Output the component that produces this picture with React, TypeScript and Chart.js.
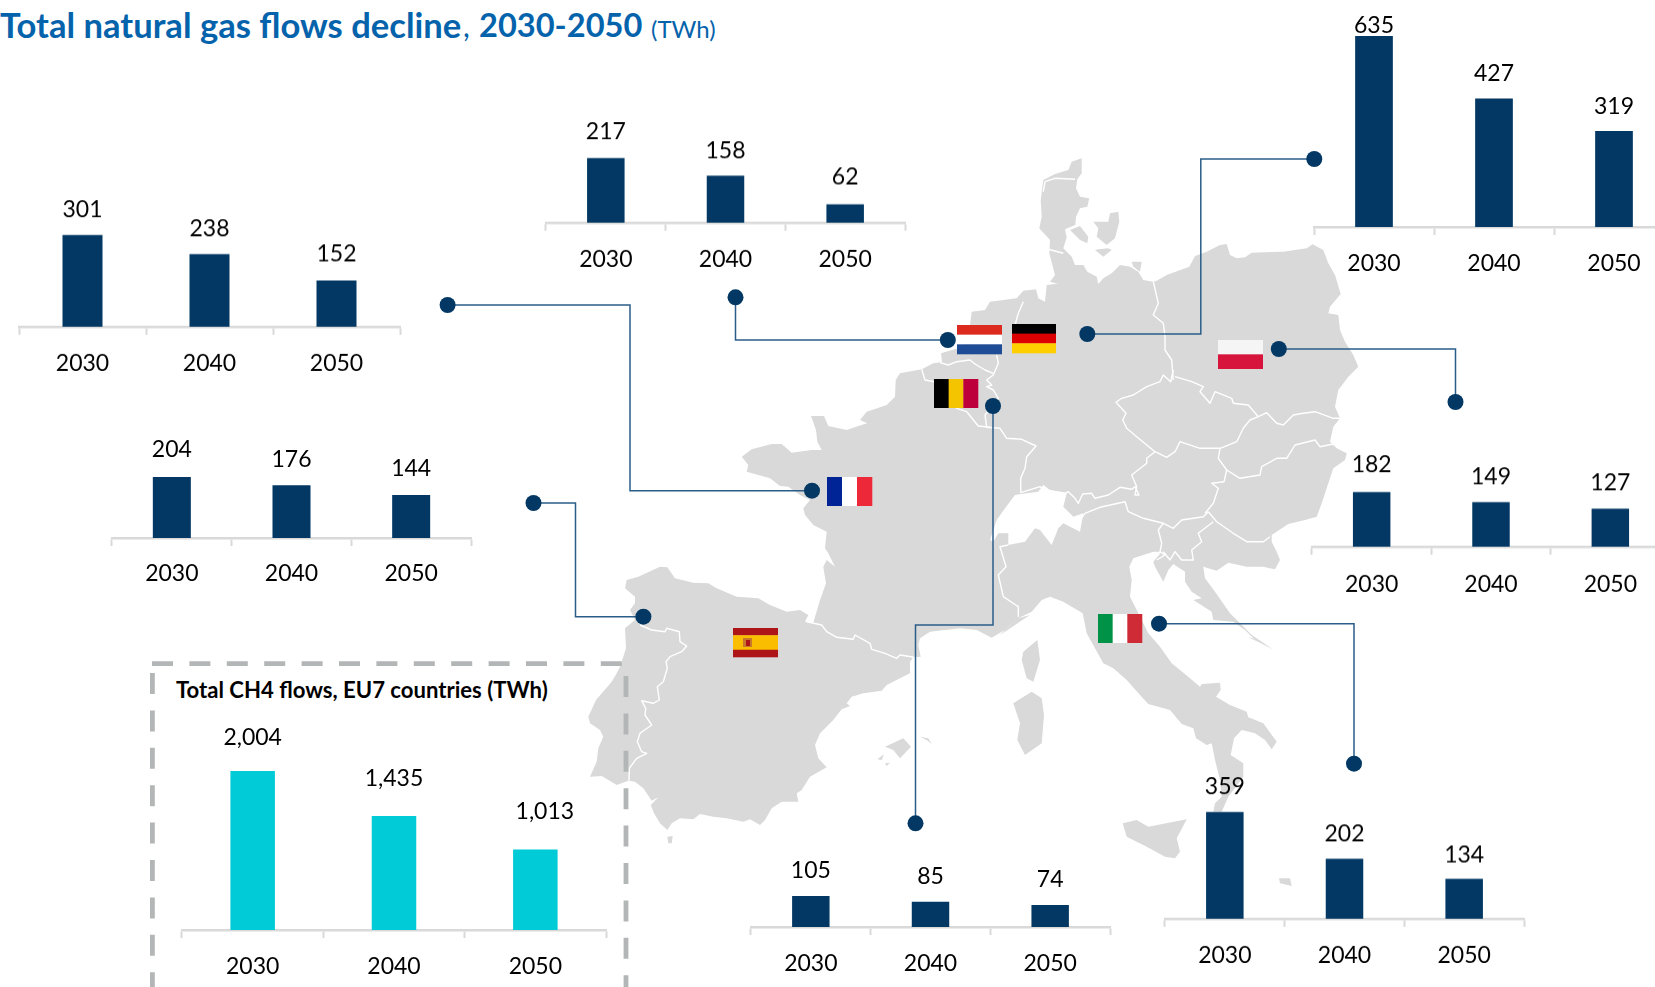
import React, { useEffect, useRef } from "react";
import { Chart, registerables } from "chart.js";

Chart.register(...registerables);

const years = ["2030", "2040", "2050"];
const franceValues = [301, 238, 152];
const netherlandsValues = [217, 158, 62];
const germanyValues = [635, 427, 319];
const polandValues = [182, 149, 127];
const spainValues = [204, 176, 144];
const belgiumValues = [105, 85, 74];
const italyValues = [359, 202, 134];
const totalValues = [2004, 1435, 1013];

const NAVY = "#023863";
const CYAN = "#00CBD6";
const FONT = "Lato, Carlito, sans-serif";

const panels = [
  { id: "fr", values: franceValues, left: 19, right: 400, base: 327, ppu: 0.3056, bar: 40, lift: [25, 25, 26], cat: 34.5, color: NAVY },
  { id: "nl", values: netherlandsValues, left: 546, right: 905, base: 222.7, ppu: 0.2967, bar: 37.5, lift: [26, 25, 27], cat: 34.3, color: NAVY },
  { id: "de", values: germanyValues, left: 1314, right: 1674, base: 227, ppu: 0.3008, bar: 37.7, lift: [10, 25, 24], cat: 34.7, color: NAVY },
  { id: "pl", values: polandValues, left: 1311.7, right: 1670, base: 546.7, ppu: 0.2985, bar: 37.5, lift: [27, 25.3, 25.7], cat: 35.6, color: NAVY },
  { id: "es", values: spainValues, left: 112, right: 471, base: 537.8, ppu: 0.3, bar: 38, lift: [27, 26, 26.4], cat: 33.5, color: NAVY },
  { id: "be", values: belgiumValues, left: 750.5, right: 1110, base: 926.7, ppu: 0.2967, bar: 37.5, lift: [25, 25.6, 26], cat: 34.5, color: NAVY },
  { id: "it", values: italyValues, left: 1165, right: 1524, base: 919.3, ppu: 0.298, bar: 37.5, lift: [25, 25, 24], cat: 34.5, color: NAVY },
  { id: "eu", values: totalValues, left: 182, right: 606, base: 930, ppu: 0.0795, bar: 44.5, lift: [33.7, 38, 38], shift: [0, 0, 9.5], cat: 34, color: CYAN },
];

const p = (ox: number, oy: number, s: number[]) => {
  const out: [number, number][] = [];
  for (let i = 0; i < s.length; i += 2) out.push([ox + s[i] / 3, oy + s[i + 1] / 3]);
  return out;
};
const toD = (pts: [number, number][], close = true) =>
  "M" + pts.map((q) => q[0].toFixed(1) + " " + q[1].toFixed(1)).join("L") + (close ? "Z" : "");

const mainland = [
  ...p(1000, 150, [245,25, 245,70, 232,88, 228,115, 240,140, 268,145, 262,170, 240,175, 228,200, 226,225, 195,238, 200,262, 190,295, 215,320, 225,345, 250,345, 262,365, 290,380, 295,402, 310,385, 335,370, 360,345, 390,350, 415,365, 430,390, 460,395, 470,392, 500,375, 568,350, 585,318, 620,305, 660,285, 680,282, 690,315, 710,325, 735,322, 755,308, 850,305, 920,295, 938,283, 970,300, 985,340, 1005,375, 1022,432, 990,470, 985,490, 1015,495, 1020,540, 1035,575, 1060,615, 1075,650, 1045,680, 1015,720, 1005,770, 1020,805]),
  ...p(1000, 370, [1000,170, 990,215, 1010,235, 1040,250, 1035,270, 1000,295, 985,340, 965,400, 950,440, 915,450, 865,462, 815,495, 815,515, 830,545, 840,570, 825,598, 790,590, 740,590, 685,578, 650,602, 610,590, 615,625, 645,665, 690,730, 720,760, 755,795, 820,838, 760,805, 735,780, 700,755, 640,750, 635,725, 580,690, 605,685, 575,665, 555,635, 555,605, 520,582, 505,600, 490,635, 465,590, 460,575, 485,545, 460,545, 400,565, 388,590, 395,630, 390,680, 410,720, 445,790, 480,830, 515,880, 540,900]),
  ...p(980, 600, [630,235, 660,260, 665,252, 720,248, 722,270, 708,290, 750,315, 800,335, 805,352, 850,370, 890,425, 875,448, 855,420, 825,400, 785,390, 762,415, 752,465, 790,490, 790,530, 745,590, 725,635, 700,635, 705,610, 725,590, 720,540, 705,480, 695,430, 680,435, 648,415, 640,385, 605,372, 570,330, 505,312, 480,285, 440,240, 400,205, 370,190, 345,145, 320,100, 308,40, 250,5]),
  ...p(1000, 370, [150,680, 125,690, 95,725, 55,745, 25,770, 0,795]),
  ...p(730, 340, [900,825, 865,835, 825,870, 785,893, 740,870, 690,865, 645,870, 600,875, 570,895]),
  ...p(580, 560, [1015,255, 1022,290, 1000,292, 990,305, 990,340, 960,355, 920,375, 905,392, 850,400, 815,410, 800,430, 810,438, 785,448, 760,480, 720,520, 705,555, 715,595, 740,622, 690,650, 665,690, 650,700, 655,725, 605,725, 575,745, 555,780, 540,795, 510,778, 490,785, 440,775, 400,770, 360,762, 340,778, 300,775, 275,790, 262,810, 240,790, 222,760, 212,735, 235,712, 215,722, 190,685, 165,665, 145,662, 110,675, 65,648, 30,650, 50,605, 55,565, 70,530, 60,510, 30,490, 25,470, 48,420, 95,365, 110,340, 122,315, 138,265, 135,205, 140,200, 165,180, 150,150, 165,130, 165,110, 135,85, 140,60, 175,50, 240,20, 262,22, 285,55, 340,68, 385,70, 410,85, 470,110, 535,115, 570,135, 620,155, 660,150, 685,165, 675,185, 700,188, 720,120, 738,70, 730,20, 740,0]),
  ...p(730, 340, [315,680, 295,640, 285,625, 290,575, 250,555, 225,525, 220,505, 240,480, 210,465, 175,440, 150,438, 120,415, 85,405, 50,395, 55,375, 35,350, 65,328, 125,312, 155,312, 185,338, 245,330, 275,330, 262,305, 258,270, 243,228, 282,228, 295,258, 350,270, 385,258, 412,250, 390,240, 410,215, 470,195, 495,170, 497,120, 510,100, 575,88, 610,70, 636,66, 633,40, 700,20]),
  ...p(900, 300, [210,75, 215,35, 255,30, 270,5]),
  ...p(1000, 150, [50,445, 70,422, 108,418, 115,445, 135,455, 140,405, 185,400, 212,445, 185,405, 150,395, 165,375, 148,310, 150,270, 118,235, 125,200, 122,150, 130,90, 165,72, 205,60, 215,35]),
];

const islands = [
  p(1000, 150, [280,215, 325,215, 330,190, 355,185, 358,215, 345,265, 320,285, 290,260, 295,235]),
  p(1000, 150, [210,240, 240,228, 265,260, 262,280, 240,270]),
  p(1000, 150, [285,300, 310,320, 335,300, 325,295, 295,298]),
  p(1000, 150, [395,335, 425,335, 420,365, 400,350]),
  p(980, 600, [172,120, 180,180, 160,245, 140,235, 125,180, 130,155]),
  p(980, 600, [100,310, 155,275, 185,295, 192,345, 185,430, 135,465, 112,420, 120,370]),
  p(980, 600, [428,670, 470,660, 505,680, 620,658, 590,715, 600,755, 585,775, 555,770, 500,740, 440,710]),
  p(980, 600, [897,835, 930,835, 935,858, 900,850]),
  p(580, 560, [915,560, 970,535, 993,560, 960,595, 940,570]),
  p(580, 560, [1020,530, 1045,535, 1055,552, 1040,540]),
  p(580, 560, [892,598, 912,583, 905,600]),
  p(580, 560, [915,610, 930,608, 920,618]),
  p(580, 560, [262,830, 278,828, 275,850, 265,850]),
  p(980, 600, [805,112, 830,118, 880,150, 840,128]),
];

const switzerland = p(730, 340, [780,600, 800,540, 825,505, 855,465, 925,455, 940,435, 960,450, 1010,460, 1000,500, 1030,530, 1060,520, 1050,575, 1000,550, 985,565, 965,615, 930,570, 915,565, 885,605, 835,615, 835,580, 805,580, 790,605]);

const borders = [
  p(1000, 150, [130,125, 135,95, 165,85, 225,88]),
  p(1000, 150, [145,298, 190,310]),
  p(1000, 150, [70,455, 55,490, 45,525]),
  p(730, 340, [800,45, 805,70, 790,105, 770,120, 785,135, 770,140, 790,150, 805,175, 765,225, 770,262, 810,265, 830,295, 875,298, 918,318, 890,350, 885,385, 872,415, 872,458]),
  p(730, 340, [630,68, 655,75, 680,65, 720,60, 735,72, 765,90, 790,100]),
  p(730, 340, [575,88, 585,120, 612,125, 680,205, 710,215, 745,258, 780,262]),
  p(1000, 370, [62,368, 120,350, 135,360, 195,370, 205,365, 225,385, 235,400, 248,372, 275,370, 285,385, 325,375, 360,352, 395,358, 405,350, 417,375, 405,375, 410,350, 395,315, 440,280, 440,265, 465,245]),
  p(1000, 370, [465,245, 410,200, 380,175, 368,150, 378,130, 348,97, 365,85, 400,75, 440,50, 480,35, 490,15, 512,35, 520,0]),
  p(1000, 150, [460,395, 475,460, 460,495, 490,520, 495,560, 495,600, 515,630, 520,690]),
  p(1000, 150, [525,680, 575,695, 610,710, 600,725, 630,760, 645,725, 695,745, 700,760, 745,765, 775,800]),
  p(1000, 370, [465,245, 500,262, 525,245, 540,215, 600,235, 630,235, 660,235]),
  p(1000, 370, [660,235, 710,215, 730,175, 750,150, 775,140]),
  p(1000, 370, [775,140, 800,128, 830,160, 850,165, 880,135, 910,130, 945,125, 1000,145, 1020,145]),
  p(1000, 370, [660,235, 655,265, 680,300, 720,325, 780,315, 785,290, 830,265, 860,265, 885,225, 945,210, 960,230, 1000,222]),
  p(1000, 370, [680,300, 672,335, 635,340, 655,355, 640,400, 615,430]),
  p(1000, 370, [240,450, 255,430, 300,412, 375,395, 385,425, 430,445, 490,460, 520,475, 545,450, 610,440, 625,425]),
  p(1000, 370, [625,425, 650,455, 700,490, 740,515, 790,515, 810,500]),
  p(1000, 370, [640,455, 595,490, 605,515, 575,540, 580,570, 545,570, 525,545, 510,570, 490,545]),
  p(1000, 370, [490,460, 475,480, 485,520, 480,545, 495,555, 470,570]),
  p(730, 340, [835,615, 810,620, 828,680, 805,705, 820,770, 865,800, 865,830]),
  p(580, 560, [680,185, 725,195, 740,215, 770,232, 820,238, 825,225, 870,250, 875,268, 915,280, 950,295, 960,285, 1003,292]),
  p(580, 560, [180,195, 215,210, 255,215, 260,205, 298,215, 300,245, 320,258, 305,275, 270,290, 258,305, 262,325, 250,365, 232,380, 238,420, 220,430, 185,422, 197,445, 195,465, 215,495, 180,520, 172,545, 185,575, 200,580, 170,595, 148,625, 147,662]),
];

const connectors: { from: number[]; via: number[][]; to: number[] }[] = [
  { from: [447.6, 305], via: [[630, 305], [630, 490.7]], to: [812, 490.7] },
  { from: [735.5, 297.3], via: [[735.5, 340]], to: [947.8, 340] },
  { from: [1087.3, 334], via: [[1200.8, 334], [1200.8, 159]], to: [1314.3, 159] },
  { from: [1278.8, 349], via: [[1455.5, 349]], to: [1455.5, 402] },
  { from: [993, 406], via: [[993, 625], [915.5, 625]], to: [915.5, 823.3] },
  { from: [643.4, 616.7], via: [[575.5, 616.7], [575.5, 503]], to: [533.5, 503] },
  { from: [1159, 623.7], via: [[1354, 623.7]], to: [1354, 763.7] },
];

function Flag({ x, y, w, h, dir, colors, fr }: any) {
  const total = (fr || colors.map(() => 1)).reduce((a: number, b: number) => a + b, 0);
  let acc = 0;
  return (
    <g>
      {colors.map((c: string, i: number) => {
        const f = (fr ? fr[i] : 1) / total;
        const r =
          dir === "v" ? (
            <rect key={i} x={x + acc * w} y={y} width={f * w + 0.3} height={h} fill={c} />
          ) : (
            <rect key={i} x={x} y={y + acc * h} width={w} height={f * h + 0.3} fill={c} />
          );
        acc += f;
        return r;
      })}
    </g>
  );
}

const valueLabels = {
  id: "valueLabels",
  afterDatasetsDraw(chart: any) {
    const cfg = chart.options.plugins.valueLabels;
    const { ctx } = chart;
    const meta = chart.getDatasetMeta(0);
    ctx.save();
    ctx.fillStyle = "#000000";
    ctx.font = "23px " + FONT;
    ctx.textAlign = "center";
    ctx.textBaseline = "middle";
    meta.data.forEach((el: any, i: number) => {
      const v = chart.data.datasets[0].data[i];
      ctx.fillText(v.toLocaleString("en-US"), el.x + (cfg.shift ? cfg.shift[i] : 0), el.y - cfg.lift[i]);
    });
    ctx.restore();
  },
};

function Panel({ cfg }: any) {
  const ref = useRef<HTMLCanvasElement>(null);
  const maxV = Math.max(...cfg.values);
  const plotH = maxV * cfg.ppu + Math.max(...cfg.lift) + 22;
  const axisH = 56;
  const pad = 2;
  useEffect(() => {
    const width = cfg.right - cfg.left;
    const chart = new Chart(ref.current as HTMLCanvasElement, {
      type: "bar",
      data: {
        labels: years,
        datasets: [
          {
            data: cfg.values,
            backgroundColor: cfg.color,
            categoryPercentage: 1,
            barPercentage: cfg.bar / (width / 3),
          },
        ],
      },
      plugins: [valueLabels],
      options: {
        animation: false,
        responsive: false,
        maintainAspectRatio: false,
        layout: { padding: { left: pad, right: pad, top: 0, bottom: 0 } },
        plugins: {
          legend: { display: false },
          tooltip: { enabled: false },
          title: { display: false },
          valueLabels: { lift: cfg.lift, shift: cfg.shift },
        } as any,
        scales: {
          y: { display: false, min: 0, max: plotH / cfg.ppu },
          x: {
            offset: true,
            afterFit: (s: any) => {
              s.height = axisH;
            },
            border: { display: true, color: "#D9D9D9", width: 2.5 },
            grid: {
              offset: true,
              drawOnChartArea: false,
              drawTicks: true,
              tickLength: 8,
              tickWidth: 2,
              tickColor: "#D9D9D9",
            },
            ticks: {
              color: "#000000",
              font: { family: FONT, size: 23 },
              padding: cfg.cat - 8 - 11.5,
              maxRotation: 0,
              autoSkip: false,
            },
          },
        },
      } as any,
    });
    return () => chart.destroy();
  }, []);
  return (
    <canvas
      ref={ref}
      width={cfg.right - cfg.left + pad * 2}
      height={plotH + axisH}
      style={{
        position: "absolute",
        left: cfg.left - pad,
        top: cfg.base - plotH,
        width: cfg.right - cfg.left + pad * 2,
        height: plotH + axisH,
      }}
    />
  );
}

const titleBase: any = {
  position: "absolute",
  top: 4,
  whiteSpace: "nowrap",
  color: "#0563AC",
  fontFamily: FONT,
  lineHeight: "42px",
};

export default function App() {
  const boxDash = "21 16.4";
  return (
    <div style={{ position: "absolute", left: 0, top: 0, width: 1655, height: 987, overflow: "hidden", background: "#fff" }}>
      <svg width={1655} height={987} style={{ position: "absolute", left: 0, top: 0 }}>
        <path d={toD(mainland)} fill="#D9D9D9" />
        {islands.map((s, i) => (
          <path key={i} d={toD(s)} fill="#D9D9D9" />
        ))}
        <path d={toD(switzerland)} fill="#fff" />
        {borders.map((b, i) => (
          <path key={i} d={toD(b, false)} fill="none" stroke="#fff" strokeWidth={1.4} strokeLinejoin="round" />
        ))}

        {connectors.map((c, i) => (
          <g key={i}>
            <path
              d={"M" + [c.from, ...c.via, c.to].map((q) => q.join(" ")).join("L")}
              fill="none"
              stroke="#2A5D88"
              strokeWidth={1.5}
            />
            <circle cx={c.from[0]} cy={c.from[1]} r={8} fill={NAVY} />
            <circle cx={c.to[0]} cy={c.to[1]} r={8} fill={NAVY} />
          </g>
        ))}

        <Flag x={957} y={325} w={45} h={29} colors={["#DC2A1E", "#FFFFFF", "#1E4D96"]} />
        <Flag x={1012} y={324} w={44} h={29} colors={["#000000", "#DD0000", "#FFCE00"]} />
        <Flag x={934} y={379} w={44} h={29} dir="v" colors={["#000000", "#F5C400", "#BD003C"]} />
        <Flag x={827} y={477} w={45} h={29} dir="v" colors={["#002395", "#FFFFFF", "#ED2939"]} />
        <Flag x={1218} y={340} w={45} h={28.7} colors={["#F5F5F5", "#D7143C"]} />
        <Flag x={733} y={628} w={45} h={29} colors={["#AD1519", "#FABD00", "#AD1519"]} fr={[1, 2, 1]} />
        <rect x={743} y={638} width={9} height={9} fill="#C8782A" />
        <rect x={746} y={640} width={4} height={6} fill="#AD1519" />
        <Flag x={1098} y={614} w={44} h={29} dir="v" colors={["#009246", "#FFFFFF", "#CE2B37"]} />

        <line x1={152} y1={663.7} x2={628} y2={663.7} stroke="#B3B6B6" strokeWidth={4.8} strokeDasharray={boxDash} />
        <line x1={152.4} y1={673} x2={152.4} y2={987} stroke="#B3B6B6" strokeWidth={4.8} strokeDasharray={boxDash} />
        <line x1={626} y1={676} x2={626} y2={987} stroke="#B3B6B6" strokeWidth={4.8} strokeDasharray={boxDash} />
      </svg>

      <div style={{ ...titleBase, left: 0, fontSize: 34.6, fontWeight: 700 }}>Total natural gas flows decline</div>
      <div style={{ ...titleBase, left: 463, fontSize: 30, fontWeight: 400 }}>,</div>
      <div style={{ ...titleBase, left: 479, fontSize: 32.6, fontWeight: 700 }}>2030-2050</div>
      <div style={{ ...titleBase, left: 651, top: 8, fontSize: 24, fontWeight: 400 }}>(TWh)</div>
      <div
        style={{
          position: "absolute",
          left: 176,
          top: 675,
          whiteSpace: "nowrap",
          color: "#000",
          fontFamily: FONT,
          fontWeight: 700,
          fontSize: 22.1,
          lineHeight: "30px",
        }}
      >
        Total CH4 flows, EU7 countries (TWh)
      </div>

      {panels.map((c) => (
        <Panel key={c.id} cfg={c} />
      ))}
    </div>
  );
}
